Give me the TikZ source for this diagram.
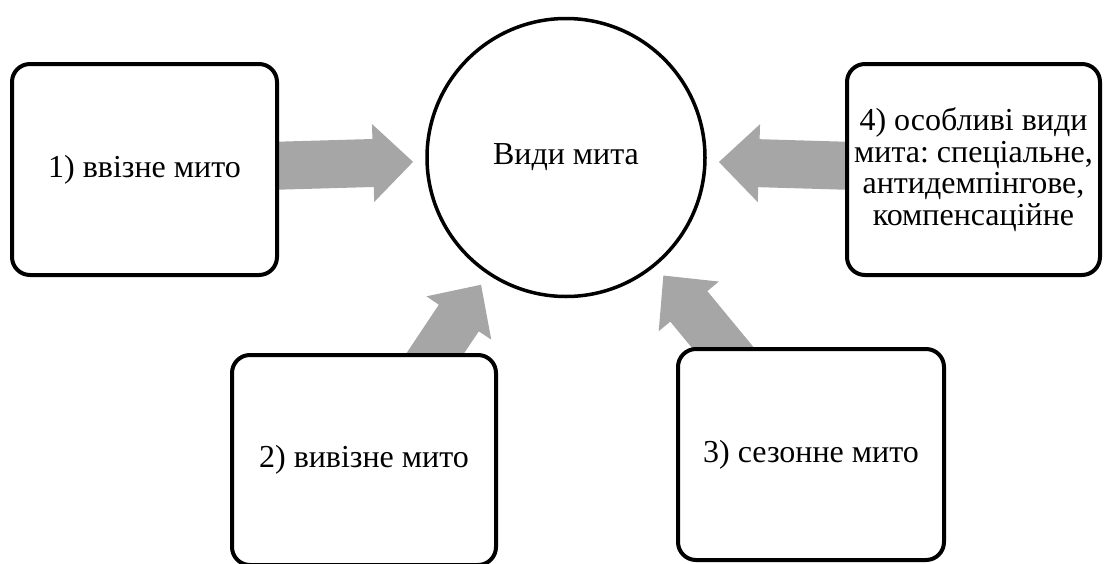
\documentclass[tikz,border=0pt]{standalone}
\usepackage{fontspec}
\setmainfont{Liberation Serif}
\frenchspacing
\usetikzlibrary{calc,backgrounds}
\definecolor{dutygray}{HTML}{A6A6A6}
\tikzset{
  kind/.style={draw=black, fill=white, line width=4pt, rounded corners=18pt, align=center, inner sep=0pt, font=\fontsize{32}{31.7}\selectfont},
  hub/.style={circle, draw=black, fill=white, line width=3.5pt, inner sep=0pt, minimum size=278pt, font=\fontsize{32}{31.7}\selectfont}
}
% block arrow from a box towards the hub
\newcommand{\blockarrow}[1]{%
  \coordinate (tip) at ($(vydy.center)!153pt!(#1.center)$);
  \coordinate (neck) at ($(tip)!40pt!(#1.center)$);
  \fill[dutygray] ($(#1.center)!24pt!90:(tip)$) -- ($(neck)!24pt!-90:(#1.center)$)
    -- ($(neck)!39pt!-90:(#1.center)$) -- (tip) -- ($(neck)!39pt!90:(#1.center)$)
    -- ($(neck)!24pt!90:(#1.center)$) -- ($(#1.center)!24pt!-90:(tip)$) -- cycle;
}

\begin{document}
\begin{tikzpicture}[x=1pt, y=-1pt]
  \useasboundingbox (0,0) rectangle (1104,563);
  \clip (0,0) rectangle (1104,563);
  \node[hub] (vydy) at (566,157.5) {Види мита};
  \node[kind, minimum width=265pt, minimum height=211pt] (vvizne) at (144.5,169.5) {1) ввізне мито};
  \node[kind, minimum width=253pt, minimum height=211pt] (osoblyvi) at (973.5,169.5) {4) особливі види\\мита: спеціальне,\\антидемпінгове,\\компенсаційне};
  \node[kind, minimum width=264pt, minimum height=210pt] (vyvizne) at (364,460) {2) вивізне мито};
  \node[kind, minimum width=266pt, minimum height=211pt] (sezonne) at (811,454.5) {3) сезонне мито};
  \begin{pgfonlayer}{background}
    \blockarrow{vvizne}
    \blockarrow{osoblyvi}
    \blockarrow{vyvizne}
    \blockarrow{sezonne}
  \end{pgfonlayer}
\end{tikzpicture}
\end{document}
